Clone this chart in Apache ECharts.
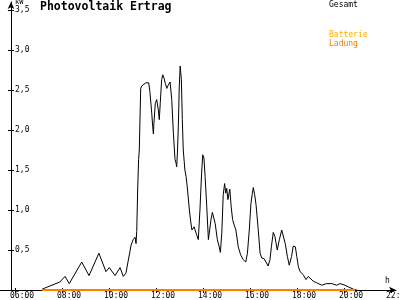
<!DOCTYPE html>
<html><head><meta charset="utf-8">
<script src="https://cdn.jsdelivr.net/npm/echarts@6/dist/echarts.min.js"></script>
<style>html,body{margin:0;padding:0;background:#fff}#c{width:400px;height:300px}</style>
</head><body><div id="c"></div>
<script>
const gesamtTimes = [7.15,7.91,8.13,8.31,8.84,9.15,9.57,9.87,10.01,10.26,10.47,10.61,10.72,10.94,11.03,11.11,11.15,11.18,11.22,11.26,11.29,11.32,11.35,11.39,11.57,11.69,11.74,11.82,11.86,11.89,11.91,11.97,12.03,12.06,12.10,12.14,12.18,12.24,12.29,12.34,12.40,12.46,12.52,12.60,12.67,12.74,12.81,12.85,12.88,12.91,12.95,12.99,13.03,13.08,13.12,13.16,13.23,13.28,13.33,13.42,13.48,13.53,13.62,13.73,13.80,13.87,13.94,13.99,14.04,14.09,14.16,14.23,14.27,14.34,14.40,14.47,14.52,14.61,14.69,14.74,14.80,14.86,14.92,14.97,15.01,15.06,15.14,15.20,15.26,15.33,15.40,15.50,15.60,15.71,15.82,15.89,15.97,16.04,16.10,16.14,16.20,16.26,16.34,16.43,16.50,16.60,16.68,16.77,16.85,16.91,16.99,17.06,17.16,17.25,17.35,17.42,17.50,17.59,17.67,17.77,17.84,17.93,17.99,18.06,18.13,18.27,18.38,18.48,18.55,18.69,18.84,19.05,19.26,19.48,19.69,19.83,19.90,20.04,20.18,20.40,20.54];
const gesamtValues = [0.01,0.10,0.17,0.08,0.35,0.18,0.46,0.23,0.28,0.18,0.28,0.17,0.21,0.56,0.63,0.66,0.58,0.73,1.25,1.63,1.75,2.15,2.52,2.55,2.59,2.59,2.48,2.21,2.04,1.95,2.08,2.33,2.38,2.40,2.25,2.13,2.33,2.63,2.69,2.65,2.58,2.52,2.56,2.60,2.38,1.96,1.63,1.59,1.54,1.71,2.04,2.54,2.80,2.63,2.13,1.75,1.50,1.42,1.29,1.00,0.85,0.75,0.79,0.69,0.63,1.00,1.46,1.69,1.65,1.42,1.04,0.63,0.65,0.88,0.97,0.96,0.83,0.63,0.54,0.47,0.71,1.19,1.33,1.21,1.27,1.13,1.26,1.04,0.88,0.81,0.75,0.54,0.44,0.38,0.35,0.46,0.75,1.08,1.21,1.28,1.19,1.06,0.79,0.46,0.40,0.39,0.35,0.30,0.38,0.54,0.72,0.67,0.50,0.63,0.75,0.73,0.58,0.42,0.31,0.42,0.55,0.54,0.42,0.29,0.23,0.19,0.13,0.17,0.16,0.11,0.09,0.06,0.08,0.08,0.06,0.08,0.09,0.06,0.04,0.01,0.00];
const batterieTimes = [7.15, 20.47];
const batterieValues = [0, 0];
const ladungTimes = [7.15, 20.47];
const ladungValues = [0, 0];
const xTickValues = [6,8,10,12,14,16,18,20,22];
const xTickLabels = ['06:00','08:00','10:00','12:00','14:00','16:00','18:00','20:00','22:00'];
const yTickValues = [0.5,1,1.5,2,2.5,3,3.5];
const yTickLabels = ['0,5','1,0','1,5','2,0','2,5','3,0','3,5'];

const zip = (a, b) => a.map((v, i) => [v, b[i]]);
const FONT = 'DejaVu Sans Mono';
const xMin = 5.362, xMax = 22.213, yMax = 3.6;
const pxPerHour = 23.5;
const labelShift = 5 / pxPerHour;

const chart = echarts.init(document.getElementById('c'), null, {renderer: 'canvas'});
chart.setOption({
  animation: false,
  backgroundColor: '#ffffff',
  title: {
    text: 'Photovoltaik Ertrag', left: 40, top: 1, padding: 0,
    textStyle: {fontFamily: FONT, fontSize: 11.5, fontWeight: 'bold', color: '#000'}
  },
  legend: [
    {data: [{name: 'Gesamt', textStyle: {color: '#000'}}], left: 324, top: 1, padding: 0,
     icon: 'none', itemWidth: 0, itemHeight: 8, textStyle: {fontFamily: FONT, fontSize: 8}},
    {data: [{name: 'Batterie', textStyle: {color: '#ffb000'}}, {name: 'Ladung', textStyle: {color: '#ff7800'}}],
     orient: 'vertical', left: 324, top: 31, padding: 0, itemGap: 1,
     icon: 'none', itemWidth: 0, itemHeight: 8, textStyle: {fontFamily: FONT, fontSize: 8}}
  ],
  grid: {left: 0, right: 4, top: 2, bottom: 10, outerBoundsMode: 'none', containLabel: false},
  xAxis: [
    {type: 'value', min: xMin, max: xMax, position: 'bottom',
     axisLine: {show: true, symbol: ['none', 'arrow'], symbolSize: [5, 7], lineStyle: {color: '#000', width: 1}},
     axisTick: {show: true, length: 3, customValues: xTickValues, lineStyle: {color: '#000'}},
     axisLabel: {show: true, customValues: xTickValues.map(v => v - labelShift), align: 'left', margin: 2,
       fontFamily: FONT, fontSize: 8, color: '#000',
       formatter: v => xTickLabels[xTickValues.indexOf(Math.round(v))] || ''},
     splitLine: {show: false}},
    {type: 'value', min: xMin, max: xMax, position: 'bottom',
     axisLine: {show: false},
     axisTick: {show: true, inside: true, length: 2, customValues: xTickValues, lineStyle: {color: '#000'}},
     axisLabel: {show: false}, splitLine: {show: false}}
  ],
  yAxis: [
    {type: 'value', min: 0, max: yMax, position: 'left', offset: -11,
     axisLine: {show: true, symbol: ['none', 'arrow'], symbolSize: [5, 7], lineStyle: {color: '#000', width: 1}},
     axisTick: {show: true, length: 3, customValues: yTickValues, lineStyle: {color: '#000'}},
     axisLabel: {show: true, inside: true, margin: 4, customValues: yTickValues,
       fontFamily: FONT, fontSize: 8, color: '#000',
       formatter: v => yTickLabels[yTickValues.indexOf(Math.round(v * 2) / 2)] || ''},
     splitLine: {show: false}},
    {type: 'value', min: 0, max: yMax, position: 'left', offset: -11,
     axisLine: {show: false},
     axisTick: {show: true, inside: true, length: 3, customValues: yTickValues, lineStyle: {color: '#000'}},
     axisLabel: {show: false}, splitLine: {show: false}}
  ],
  graphic: [
    {type: 'text', left: 15, top: -1, style: {text: 'kW', font: '7px ' + FONT, fill: '#000'}},
    {type: 'text', left: 385, top: 277, style: {text: 'h', font: '8px ' + FONT, fill: '#000'}}
  ],
  series: [
    {name: 'Gesamt', type: 'line', data: zip(gesamtTimes, gesamtValues), showSymbol: false, symbol: 'none',
     lineStyle: {color: '#000', width: 1}, itemStyle: {color: '#000'}, z: 3},
    {name: 'Batterie', type: 'line', data: zip(batterieTimes, batterieValues), symbol: 'none',
     lineStyle: {color: '#ffb000', width: 1}, itemStyle: {color: '#ffb000'}, z: 3},
    {name: 'Ladung', type: 'line', data: zip(ladungTimes, ladungValues), symbol: 'none',
     lineStyle: {color: '#ff8000', width: 2}, itemStyle: {color: '#ff8000'}, z: 4}
  ]
});
</script></body></html>
